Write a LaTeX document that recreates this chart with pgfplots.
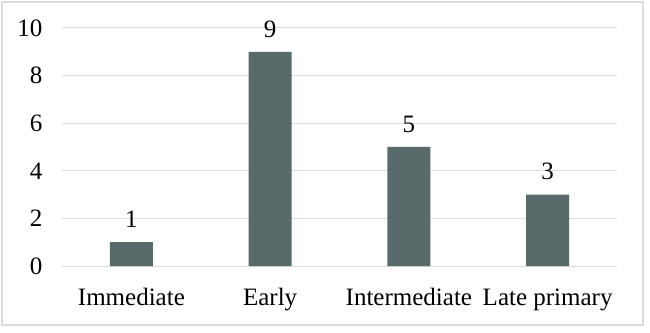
\documentclass[border=0pt]{standalone}
\usepackage{pgfplots}
\pgfplotsset{compat=1.18}
\usepackage{fontspec}
\setmainfont{Liberation Serif}
\definecolor{barc}{RGB}{89,106,107}
\definecolor{gridc}{RGB}{220,220,220}
\begin{document}
\begin{tikzpicture}
\path[use as bounding box] (-62bp,-67bp) rectangle (588bp,266bp);
\draw[gridc, line width=1.2bp] (-60bp,-59bp) rectangle (581bp,264bp);
\begin{axis}[
  at={(0,0)}, anchor=south west,
  scale only axis, width=555bp, height=238bp,
  xmin=-0.5, xmax=3.5, ymin=0, ymax=10,
  ytick={0,2,...,10},
  xtick=data,
  xticklabels={Immediate,Early,Intermediate,Late primary},
  ybar, bar width=43bp,
  ymajorgrids, grid style={gridc, line width=1bp},
  axis line style={draw=none},
  major tick length=0,
  enlargelimits=false,
  /pgf/number format/assume math mode=true,
  tick label style={font=\fontsize{25bp}{28bp}\selectfont},
  yticklabel style={xshift=-16bp},
  xticklabel style={yshift=-19bp},
  nodes near coords,
  nodes near coords style={font=\fontsize{25bp}{28bp}\selectfont, yshift=11bp, text=black},
]
\addplot[fill=barc, draw=none] coordinates {(0,1) (1,9) (2,5) (3,3)};
\end{axis}
\end{tikzpicture}
\end{document}
